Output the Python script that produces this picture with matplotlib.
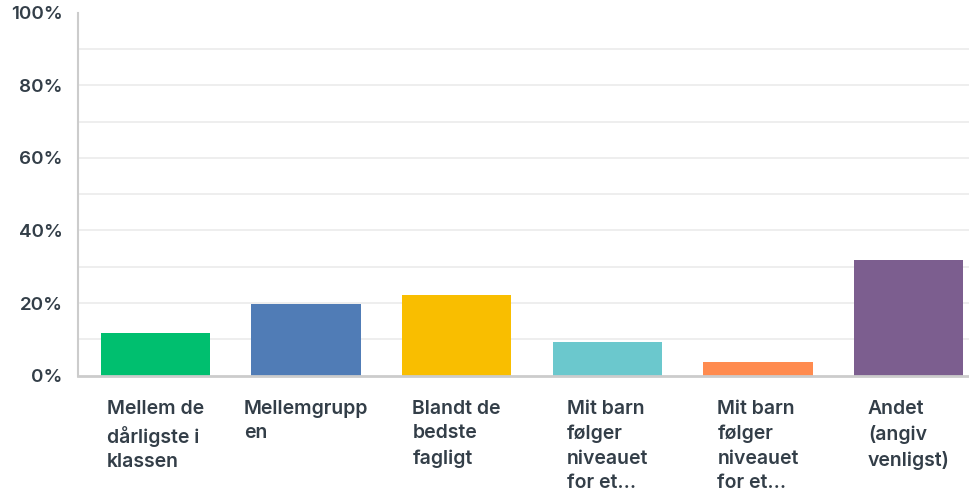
import matplotlib.pyplot as plt
from matplotlib.transforms import blended_transform_factory

# --- DATA ---
categories = ["Mellem de\ndårligste i\nklassen", "Mellemgrupp\nen", "Blandt de\nbedste\nfagligt",
              "Mit barn\nfølger\nniveauet\nfor et...", "Mit barn\nfølger\nniveauet\nfor et...",
              "Andet\n(angiv\nvenligst)"]
percent = [11.8, 19.8, 22.2, 9.3, 3.8, 31.9]
colors = ["#00bf6f", "#507cb6", "#f9be00", "#6bc8cd", "#ff8b4f", "#7c5e8f"]
tick_vals = [0, 20, 40, 60, 80, 100]
grid_vals = [10, 20, 30, 40, 50, 60, 70, 80, 90]

text_col = "#333e48"
plt.rcParams['font.family'] = ['Inter', 'DejaVu Sans']

fig = plt.figure(figsize=(9.69, 4.94), dpi=100)
ax = fig.add_axes([0.0805, 0.2395, 0.933, 0.7348])

for g in grid_vals:
    ax.axhline(g, color="#ededed", linewidth=1.3, zorder=0)

x = list(range(len(percent)))
ax.bar(x, percent, width=0.725, color=colors, zorder=2)

ax.set_xlim(-0.513, 5.487)
ax.set_ylim(0, 100)
ax.set_yticks(tick_vals)
ax.set_yticklabels([f"{v}%" for v in tick_vals], fontsize=13.5, fontweight='semibold', color=text_col)
ax.tick_params(axis='y', length=0, pad=11)
ax.set_xticks([])

for s in ['top', 'right']:
    ax.spines[s].set_visible(False)
ax.spines['left'].set_color("#cccccc")
ax.spines['left'].set_linewidth(1.5)
ax.spines['bottom'].set_color("#cccccc")
ax.spines['bottom'].set_linewidth(2)

# category labels, centered block with left-aligned lines
trans = blended_transform_factory(ax.transData, ax.transAxes)
for i, lab in enumerate(categories):
    ax.text(i, -0.066, lab, transform=trans, ha='center', va='top', multialignment='left',
            fontsize=14, fontweight='semibold', color=text_col, linespacing=1.47)

plt.savefig("out.png", dpi=100)
